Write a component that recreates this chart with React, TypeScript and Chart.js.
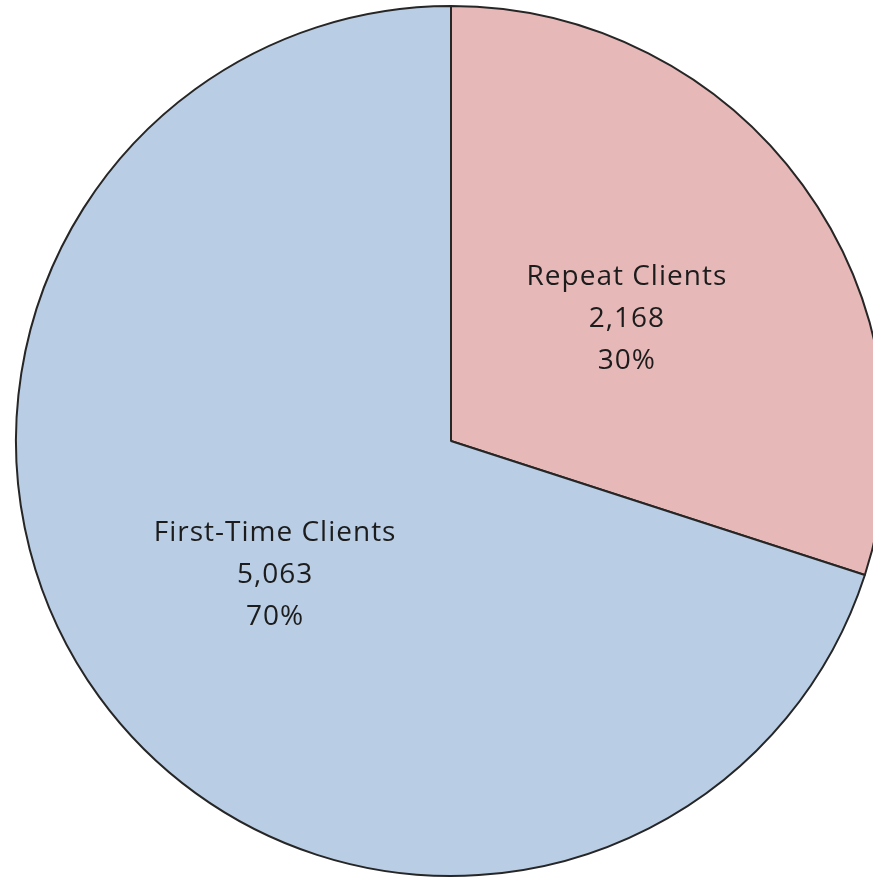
import React, { useEffect, useRef } from "react";
import { Chart, registerables } from "chart.js";

Chart.register(...registerables);

const categories = ["Repeat Clients", "First-Time Clients"];
const clientCounts = [2168, 5063];
const sliceColors = ["#E6B9B8", "#B9CDE5"];

const labelPlugin = {
  id: "sliceLabels",
  afterDatasetsDraw(chart: any) {
    const { ctx } = chart;
    const meta = chart.getDatasetMeta(0);
    const data = chart.data.datasets[0].data as number[];
    const total = data.reduce((a, b) => a + b, 0);
    ctx.save();
    ctx.fillStyle = "#1c1c1c";
    ctx.font = "28px 'Open Sans'";
    (ctx as any).letterSpacing = "1px";
    ctx.textAlign = "center";
    ctx.textBaseline = "middle";
    meta.data.forEach((arc: any, i: number) => {
      const pos = arc.tooltipPosition();
      const lines = [
        chart.data.labels[i],
        data[i].toLocaleString("en-US"),
        Math.round((data[i] / total) * 100) + "%",
      ];
      lines.forEach((t: string, j: number) => {
        ctx.fillText(t, pos.x, pos.y + 6 + (j - 1) * 42);
      });
    });
    ctx.restore();
  },
};

export default function App() {
  const ref = useRef<HTMLCanvasElement | null>(null);
  useEffect(() => {
    if (!ref.current) return;
    const chart = new Chart(ref.current, {
      type: "pie",
      data: {
        labels: categories,
        datasets: [
          {
            data: clientCounts,
            backgroundColor: sliceColors,
            borderColor: "#262626",
            borderWidth: 2,
          },
        ],
      },
      options: {
        responsive: false,
        animation: false,
        radius: 435,
        layout: { padding: 0 },
        plugins: {
          legend: { display: false },
          tooltip: { enabled: false },
        },
      },
      plugins: [labelPlugin],
    });
    return () => chart.destroy();
  }, []);
  return (
    <div
      style={{
        position: "fixed",
        left: 0,
        top: 0,
        width: 873,
        height: 878,
        overflow: "hidden",
        background: "#ffffff",
      }}
    >
      <canvas ref={ref} width={902} height={882} style={{ display: "block" }} />
    </div>
  );
}
